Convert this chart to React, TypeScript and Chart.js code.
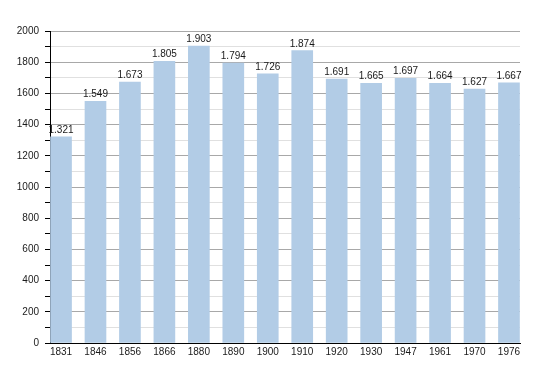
import React, { useEffect, useRef } from "react";
import { Chart, registerables } from "chart.js";

Chart.register(...registerables);

const years = ["1831", "1846", "1856", "1866", "1880", "1890", "1900", "1910", "1920", "1930", "1947", "1961", "1970", "1976"];
const population = [1321, 1549, 1673, 1805, 1903, 1794, 1726, 1874, 1691, 1665, 1697, 1664, 1627, 1667];

const FONT = "'Liberation Sans', Arial, sans-serif";

function fmt(v: number): string {
  const th = Math.floor(v / 1000);
  const rest = String(v % 1000).padStart(3, "0");
  return th > 0 ? `${th}.${rest}` : String(v);
}

const valueLabels = {
  id: "valueLabels",
  afterDatasetsDraw(chart: any) {
    const ctx = chart.ctx;
    const meta = chart.getDatasetMeta(0);
    ctx.save();
    ctx.font = `10px ${FONT}`;
    ctx.fillStyle = "#1a1a1a";
    ctx.textAlign = "center";
    ctx.textBaseline = "alphabetic";
    meta.data.forEach((bar: any, i: number) => {
      ctx.fillText(fmt(population[i]), bar.x, bar.y - 4);
    });
    ctx.restore();
  },
};

export default function App() {
  const ref = useRef<HTMLCanvasElement>(null);
  useEffect(() => {
    document.body.style.margin = "0";
    const chart = new Chart(ref.current!, {
      type: "bar",
      data: {
        datasets: [
          {
            data: population.map((v, i) => ({ x: i, y: v })),
            backgroundColor: "#b2cce6",
            borderWidth: 0,
            barThickness: 21,
          },
        ],
      },
      options: {
        animation: false,
        responsive: false,
        layout: { padding: { top: 31, right: 30, left: 0, bottom: 0 } },
        plugins: { legend: { display: false }, tooltip: { enabled: false } },
        scales: {
          x: {
            type: "linear",
            offset: false,
            min: -0.32,
            max: 13.32,
            grid: { display: false, offset: false },
            border: { display: true, color: "#000", width: 1 },
            afterBuildTicks: (scale: any) => {
              scale.ticks = years.map((_, i) => ({ value: i }));
            },
            afterFit: (scale: any) => {
              scale.height = 30;
            },
            ticks: {
              autoSkip: false,
              maxRotation: 0,
              padding: -5,
              color: "#1a1a1a",
              font: { family: FONT, size: 10 },
              callback: (v: any) => years[v as number] ?? "",
            },
          },
          y: {
            type: "linear",
            min: 0,
            max: 2000,
            afterFit: (scale: any) => {
              scale.width = 50;
            },
            border: { display: true, color: "#000", width: 1 },
            grid: {
              drawTicks: true,
              tickLength: 5,
              tickColor: "#000",
              color: (c: any) => (c.tick && c.tick.value % 200 === 0 ? "#a8a8a8" : "#e0e0e0"),
              lineWidth: 1,
            },
            ticks: {
              stepSize: 100,
              padding: 6,
              color: "#1a1a1a",
              font: { family: FONT, size: 10 },
              callback: (v: any) => ((v as number) % 200 === 0 ? String(v) : ""),
            },
          },
        },
      },
      plugins: [valueLabels],
    });
    return () => chart.destroy();
  }, []);
  return <canvas ref={ref} width={550} height={373} style={{ display: "block" }} />;
}
